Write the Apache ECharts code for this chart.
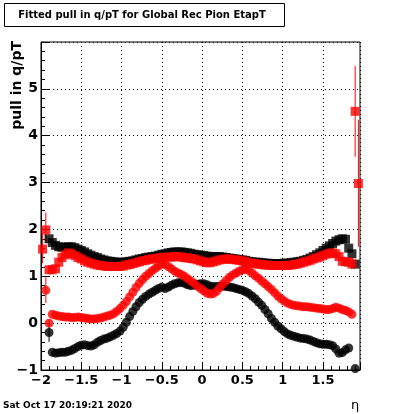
<!DOCTYPE html>
<html>
<head>
<meta charset="utf-8">
<script src="https://cdn.jsdelivr.net/npm/echarts@6/dist/echarts.min.js"></script>
<style>
html,body{margin:0;padding:0;background:#fff;}
#chart{width:400px;height:414px;}
</style>
</head>
<body>
<div id="chart"></div>
<script>
// Bin centres in eta
const eta = [-1.98,-1.94,-1.90,-1.86,-1.82,-1.78,-1.74,-1.70,-1.66,-1.62,-1.58,-1.54,-1.50,-1.46,-1.42,-1.38,-1.34,-1.30,-1.26,-1.22,
  -1.18,-1.14,-1.10,-1.06,-1.02,-0.98,-0.94,-0.90,-0.86,-0.82,-0.78,-0.74,-0.70,-0.66,-0.62,-0.58,-0.54,-0.50,-0.46,-0.42,
  -0.38,-0.34,-0.30,-0.26,-0.22,-0.18,-0.14,-0.10,-0.06,-0.02,0.02,0.06,0.10,0.14,0.18,0.22,0.26,0.30,0.34,0.38,
  0.42,0.46,0.50,0.54,0.58,0.62,0.66,0.70,0.74,0.78,0.82,0.86,0.90,0.94,0.98,1.02,1.06,1.10,1.14,1.18,
  1.22,1.26,1.30,1.34,1.38,1.42,1.46,1.50,1.54,1.58,1.62,1.66,1.70,1.74,1.78,1.82,1.86,1.90,1.94];

// Black squares
const blackSq = [null,null,1.80,1.72,1.66,1.63,1.62,1.62,1.63,1.63,1.61,1.58,1.55,1.52,1.48,1.45,1.42,1.40,1.37,1.35,
  1.33,1.32,1.31,1.30,1.30,1.30,1.31,1.32,1.33,1.35,1.37,1.38,1.40,1.41,1.42,1.43,1.45,1.47,1.48,1.50,
  1.51,1.52,1.52,1.52,1.51,1.50,1.49,1.47,1.46,1.45,1.44,1.43,1.42,1.42,1.42,1.42,1.41,1.40,1.39,1.38,
  1.37,1.36,1.35,1.34,1.32,1.31,1.30,1.30,1.29,1.28,1.28,1.27,1.27,1.27,1.27,1.28,1.28,1.29,1.30,1.31,
  1.32,1.34,1.36,1.39,1.42,1.46,1.50,1.55,1.60,1.65,1.70,1.75,1.78,1.80,1.79,1.60,1.48,1.26,null];

// Red squares
const redSq = [1.58,1.99,1.14,1.14,1.16,1.30,1.40,1.46,1.50,1.48,1.44,1.40,1.37,1.33,1.30,1.28,1.26,1.24,1.23,1.22,
  1.21,1.21,1.21,1.21,1.21,1.22,1.24,1.25,1.27,1.29,1.31,1.33,1.34,1.36,1.37,1.38,1.39,1.40,1.41,1.41,
  1.41,1.42,1.42,1.41,1.40,1.39,1.38,1.37,1.35,1.33,1.31,1.29,1.29,1.31,1.33,1.35,1.36,1.37,1.37,1.36,
  1.35,1.34,1.33,1.31,1.29,1.28,1.27,1.26,1.25,1.24,1.24,1.23,1.23,1.23,1.23,1.23,1.23,1.24,1.25,1.26,
  1.28,1.30,1.32,1.34,1.37,1.39,1.41,1.44,1.47,1.49,1.50,1.48,1.42,1.32,1.31,1.30,1.26,4.52,2.98];

// Red circles
const redCi = [null,0.70,0.00,0.19,0.17,0.15,0.14,0.13,0.13,0.12,0.12,0.13,0.12,0.11,0.10,0.09,0.09,0.10,0.11,0.13,
  0.15,0.17,0.20,0.25,0.31,0.38,0.46,0.56,0.66,0.76,0.85,0.93,1.00,1.06,1.12,1.17,1.22,1.26,1.25,1.21,
  1.16,1.11,1.07,1.04,1.00,0.95,0.90,0.85,0.79,0.74,0.69,0.64,0.62,0.63,0.68,0.76,0.84,0.91,0.98,1.03,
  1.07,1.11,1.14,1.15,1.12,1.07,1.01,0.96,0.90,0.84,0.78,0.72,0.65,0.58,0.52,0.47,0.43,0.40,0.38,0.37,
  0.36,0.35,0.35,0.34,0.33,0.32,0.31,0.30,0.29,0.29,0.31,0.34,0.32,0.29,0.27,0.24,0.19,null,null];

// Black circles
const blackCi = [null,null,-0.20,-0.62,-0.64,-0.63,-0.62,-0.62,-0.60,-0.58,-0.54,-0.50,-0.47,-0.46,-0.48,-0.49,-0.46,-0.41,-0.37,-0.34,
  -0.32,-0.29,-0.26,-0.22,-0.17,-0.09,0.02,0.14,0.25,0.35,0.44,0.51,0.57,0.62,0.66,0.70,0.74,0.77,0.74,0.77,
  0.81,0.84,0.86,0.87,0.85,0.82,0.80,0.81,0.83,0.84,0.84,0.82,0.79,0.78,0.78,0.79,0.79,0.78,0.77,0.76,
  0.74,0.72,0.70,0.67,0.63,0.58,0.52,0.45,0.38,0.29,0.20,0.10,0.02,-0.06,-0.12,-0.18,-0.23,-0.26,-0.28,-0.30,
  -0.32,-0.33,-0.34,-0.36,-0.39,-0.42,-0.44,-0.45,-0.45,-0.46,-0.48,-0.55,-0.64,-0.63,-0.57,-0.53,null,-0.97,null];

// Visible error bars: [eta, low, high]
const redErrors = [[-1.98,1.28,1.92],[-1.94,1.71,2.36],[-1.94,0.43,0.98],[-1.90,-0.08,0.08],[1.90,3.55,5.49],[1.94,1.63,4.34]];
const blackErrors = [[-1.90,-0.40,0.00]];

const xTicks = {min:-2, max:1.96, interval:0.5};
const yTicks = {min:-1, max:6, interval:1};

const FONT = 'DejaVu Sans';
const pts = arr => eta.map((e,i)=>[e,arr[i]]).filter(p=>p[1]!==null);
const minus = v => String(v).replace('-', '\u2212');

function errSeries(data, color){
  return {
    type:'custom', data:data, encode:{x:0,y:[1,2]}, z:1,
    renderItem:(params, api)=>{
      const a = api.coord([api.value(0), api.value(1)]);
      const b = api.coord([api.value(0), api.value(2)]);
      return {type:'line', shape:{x1:a[0],y1:a[1],x2:b[0],y2:b[1]}, style:{stroke:color, lineWidth:1}};
    }
  };
}

const chart = echarts.init(document.getElementById('chart'), null, {renderer:'canvas'});
chart.setOption({
  animation:false,
  backgroundColor:'#fff',
  grid:{left:41, right:40, top:42, bottom:44, show:true, borderColor:'#000', borderWidth:1, backgroundColor:'#fff'},
  xAxis:{
    type:'value', min:xTicks.min, max:xTicks.max, interval:xTicks.interval,
    axisLine:{show:true, onZero:false, lineStyle:{color:'#000', width:1}},
    axisTick:{show:true, inside:true, length:8, lineStyle:{color:'#000'}},
    minorTick:{show:true, splitNumber:5, length:4, lineStyle:{color:'#000'}},
    splitLine:{show:true, lineStyle:{color:'#000', type:[1,3], width:1}},
    axisLabel:{showMaxLabel:false, color:'#000', fontFamily:FONT, fontWeight:'bold', fontSize:13, margin:4, formatter:minus}
  },
  yAxis:{
    type:'value', min:yTicks.min, max:yTicks.max, interval:yTicks.interval,
    axisLine:{show:true, onZero:false, lineStyle:{color:'#000', width:1}},
    axisTick:{show:true, inside:true, length:8, lineStyle:{color:'#000'}},
    minorTick:{show:true, splitNumber:5, length:4, lineStyle:{color:'#000'}},
    splitLine:{show:true, lineStyle:{color:'#000', type:[1,3], width:1}},
    axisLabel:{showMaxLabel:false, color:'#000', fontFamily:FONT, fontWeight:'bold', fontSize:14, margin:3, formatter:minus}
  },
  series:[
    errSeries(blackErrors,'#000'),
    {type:'scatter', data:pts(blackSq), symbol:'rect', symbolSize:9, itemStyle:{color:'#000'}, z:2},
    {type:'scatter', data:pts(blackCi), symbol:'circle', symbolSize:9, itemStyle:{color:'#000'}, z:2},
    errSeries(redErrors,'#ff0000'),
    {type:'scatter', data:pts(redSq), symbol:'rect', symbolSize:9, itemStyle:{color:'#ff0000'}, z:3},
    {type:'scatter', data:pts(redCi), symbol:'circle', symbolSize:9, itemStyle:{color:'#ff0000'}, z:3}
  ],
  graphic:[
    {type:'rect', shape:{x:4.5, y:3.5, width:280, height:23}, style:{fill:'#fff', stroke:'#000', lineWidth:1}, z:10},
    {type:'text', x:142, y:15, z:11, style:{text:'Fitted pull in q/pT for Global Rec Pion EtapT', fontFamily:FONT, fontWeight:'bold', fontSize:10, fill:'#000', align:'center', verticalAlign:'middle'}},
    {type:'text', x:17, y:41, rotation:Math.PI/2, z:11, style:{text:'pull in q/pT', fontFamily:FONT, fontWeight:'bold', fontSize:14, fill:'#000', align:'right', verticalAlign:'middle'}},
    {type:'text', x:3, y:406, z:11, style:{text:'Sat Oct 17 20:19:21 2020', fontFamily:FONT, fontWeight:'bold', fontSize:9, fill:'#000', align:'left', verticalAlign:'middle'}},
    {type:'text', x:355, y:406, z:11, style:{text:'η', fontFamily:FONT, fontSize:13, fill:'#000', align:'center', verticalAlign:'middle'}}
  ]
});
</script>
</body>
</html>
